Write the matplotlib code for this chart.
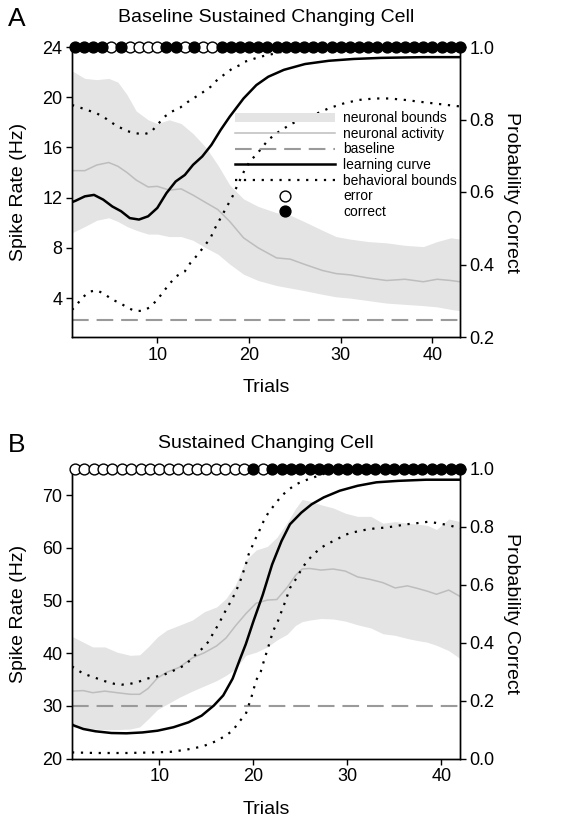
import matplotlib
matplotlib.use("Agg")
import matplotlib.pyplot as plt
from matplotlib.lines import Line2D
from matplotlib.patches import Patch

plt.rcParams['font.family'] = ['Liberation Sans', 'DejaVu Sans']

# ---------------- Panel A data ----------------
a_title = "Baseline Sustained Changing Cell"
a_neu_x = [0.7, 2.1, 3.4, 4.7, 5.7, 6.7, 7.7, 9.0, 10.0, 11.3, 12.6, 13.9, 15.3, 16.6, 17.9,
           19.4, 21, 23, 24.5, 26, 28, 29.5, 31, 33, 35, 37, 39, 40.5, 42, 43]
a_neu_mean = [14.15, 14.15, 14.6, 14.8, 14.5, 14.0, 13.4, 12.85, 12.9, 12.6, 12.7, 12.2, 11.6, 11.05, 10.1,
              8.8, 8.0, 7.2, 7.1, 6.7, 6.2, 5.95, 5.85, 5.6, 5.4, 5.5, 5.3, 5.5, 5.4, 5.3]
a_neu_upper = [22.1, 21.5, 21.4, 21.5, 21.2, 20.2, 18.9, 18.2, 17.9, 18.2, 17.9, 17.1, 16.0, 14.6, 13.0,
               11.9, 11.3, 10.8, 10.6, 10.1, 9.4, 8.9, 8.7, 8.5, 8.4, 8.2, 8.1, 8.5, 8.8, 8.7]
a_neu_lower = [9.2, 9.7, 10.2, 10.4, 10.1, 9.7, 9.4, 9.1, 9.1, 8.9, 8.9, 8.6, 8.0, 7.5, 6.7,
               5.9, 5.4, 5.0, 4.8, 4.6, 4.3, 4.1, 4.0, 3.8, 3.6, 3.5, 3.4, 3.3, 3.1, 3.0]
a_baseline = 2.25

a_lc_x = [0.7, 1.1, 2.1, 3.1, 4.1, 5.1, 6.05, 7.0, 8.0, 9.0, 10.0, 11.0, 12.0, 13.0, 13.9, 14.9,
          15.9, 16.9, 17.9, 19.4, 20.8, 22.1, 23.8, 26.1, 28.7, 31.4, 34.4, 39, 43]
a_lc = [0.572, 0.576, 0.588, 0.592, 0.579, 0.560, 0.547, 0.528, 0.524, 0.533, 0.556, 0.597, 0.629,
        0.647, 0.675, 0.698, 0.730, 0.771, 0.808, 0.858, 0.895, 0.918, 0.937, 0.953, 0.962, 0.967,
        0.970, 0.972, 0.972]

a_ub_x = [0.7, 1.8, 3.4, 4.5, 5.4, 6.7, 7.7, 8.5, 9.3, 10.0, 10.8, 11.6, 12.5, 13.3, 14.1, 14.9,
          15.8, 16.6, 17.4, 18.2, 19.0, 19.5, 21.2, 22.8, 24.5, 26.5, 43]
a_ub = [0.840, 0.831, 0.817, 0.801, 0.785, 0.768, 0.762, 0.759, 0.765, 0.785, 0.808, 0.822, 0.833,
        0.848, 0.861, 0.874, 0.890, 0.911, 0.926, 0.941, 0.950, 0.959, 0.973, 0.982, 0.992, 0.998, 1.0]

a_lb_x = [0.7, 1.1, 1.8, 2.6, 3.4, 4.2, 5.1, 5.9, 6.7, 7.5, 8.4, 9.2, 10.0, 10.7, 11.3, 12.1, 13.0,
          13.6, 14.4, 15.1, 15.8, 16.2, 16.7, 17.2, 17.7, 18.2, 18.6, 19.1, 19.6, 20.2, 20.8, 22.1,
          23.0, 24.6, 25.4, 27.1, 28.7, 30.4, 32.0, 33.7, 35.3, 37.0, 38.6, 43]
a_lb = [0.275, 0.285, 0.308, 0.325, 0.329, 0.319, 0.303, 0.294, 0.282, 0.272, 0.272, 0.282, 0.303,
        0.326, 0.346, 0.368, 0.381, 0.404, 0.427, 0.450, 0.473, 0.496, 0.519, 0.542, 0.565, 0.588,
        0.611, 0.638, 0.665, 0.688, 0.703, 0.744, 0.762, 0.788, 0.796, 0.813, 0.831, 0.845, 0.854,
        0.858, 0.858, 0.854, 0.849, 0.836]

# 1 = correct, 0 = error
a_outcome = [1, 1, 1, 1, 0, 1, 0, 0, 0, 0, 1, 1, 0, 1, 0, 0, 1, 1, 1, 1, 1, 1, 1, 1, 1, 1,
             1, 1, 1, 1, 1, 1, 1, 1, 1, 1, 1, 1, 1, 1, 1, 1, 1]
a_yticks = [4, 8, 12, 16, 20, 24]
a_y2ticks = [0.2, 0.4, 0.6, 0.8, 1.0]

# ---------------- Panel B data ----------------
b_title = "Sustained Changing Cell"
b_neu_x = [0.7, 1.9, 2.9, 4.2, 5.5, 6.9, 7.9, 8.8, 9.8, 10.8, 12.1, 13.5, 14.8, 16.1, 17.1, 18.1,
           19.2, 20.3, 21.5, 22.5, 23.6, 24.5, 25.2, 26, 27.2, 28.5, 29.8, 31.1, 32.5, 33.8, 35.1,
           36.4, 37.5, 38.5, 39.5, 40.8, 42]
b_neu_mean = [32.8, 32.9, 32.5, 32.8, 32.5, 32.2, 32.2, 33.3, 35.3, 36.4, 37.3, 39.1, 40.1, 41.4,
              42.9, 45.2, 47.5, 49.5, 50.1, 50.2, 52.5, 54.8, 56.0, 56.1, 55.8, 56.0, 55.6, 54.5,
              54.0, 53.4, 52.4, 52.8, 52.3, 51.8, 51.2, 52.0, 50.8]
b_neu_upper = [43.2, 42.1, 41.2, 41.2, 40.2, 39.6, 39.7, 41.2, 43.1, 44.4, 45.3, 46.3, 47.9, 48.8,
               50.4, 53.0, 57.7, 59.6, 60.3, 62.0, 64.8, 67.5, 69.2, 68.9, 68.2, 67.6, 66.6, 66.0,
               66.0, 64.7, 65.0, 64.7, 64.5, 64.3, 63.5, 65.5, 65.0]
b_neu_lower = [26.0, 25.8, 25.6, 25.5, 25.5, 25.6, 26.0, 27.5, 29.3, 30.3, 31.6, 32.8, 33.8, 34.8,
               35.8, 37.0, 39.6, 40.2, 41.2, 42.5, 43.6, 45.3, 46.0, 46.3, 46.6, 46.5, 46.1, 45.4,
               44.8, 43.7, 43.4, 42.8, 42.4, 42.1, 41.5, 40.5, 39.0]
b_baseline = 30.0

b_lc_x = [0.7, 0.9, 1.9, 3.2, 4.9, 6.5, 8.2, 9.8, 11.5, 13.1, 14.5, 15.8, 16.8, 17.8, 18.6, 19.2,
          20.0, 21.0, 22.0, 23.0, 23.9, 25.1, 26.2, 27.5, 29.2, 31.1, 33.1, 35.4, 38.4, 42]
b_lc = [0.118, 0.114, 0.102, 0.094, 0.088, 0.087, 0.090, 0.096, 0.108, 0.125, 0.148, 0.183, 0.218,
        0.276, 0.345, 0.395, 0.473, 0.565, 0.670, 0.751, 0.809, 0.849, 0.878, 0.902, 0.925, 0.942,
        0.954, 0.959, 0.963, 0.963]

b_ub_x = [0.7, 1.9, 2.9, 4.2, 5.2, 6.0, 6.9, 7.7, 8.7, 9.5, 10.3, 11.2, 12.0, 12.8, 13.6, 14.5,
          15.3, 15.8, 16.3, 16.8, 17.3, 17.8, 18.3, 18.6, 18.9, 19.2, 19.5, 20.2, 20.7, 21.1, 21.6,
          22.3, 23.0, 23.8, 24.6, 25.4, 26.2, 27.0, 27.9, 29.0, 42]
b_ub = [0.318, 0.293, 0.282, 0.267, 0.258, 0.255, 0.258, 0.264, 0.276, 0.282, 0.287, 0.299, 0.311,
        0.324, 0.351, 0.378, 0.406, 0.438, 0.463, 0.496, 0.525, 0.554, 0.589, 0.612, 0.641, 0.670,
        0.705, 0.757, 0.791, 0.820, 0.849, 0.878, 0.907, 0.930, 0.948, 0.959, 0.969, 0.977, 0.988,
        0.997, 1.0]

b_lb_x = [0.7, 3.2, 6.5, 9.5, 11.2, 12.8, 14.5, 15.3, 16.1, 16.9, 17.8, 18.4, 19.2, 19.5, 19.8,
          20.3, 20.8, 21.1, 21.6, 22.1, 22.6, 23.0, 23.4, 23.9, 24.6, 25.1, 25.7, 26.4, 27.2, 28.0,
          28.9, 29.7, 30.5, 31.3, 32.1, 33.0, 33.8, 34.6, 35.4, 36.2, 37.0, 37.9, 38.7, 40.8, 42]
b_lb = [0.021, 0.019, 0.019, 0.021, 0.023, 0.030, 0.041, 0.050, 0.061, 0.076, 0.096, 0.123, 0.154,
        0.183, 0.212, 0.270, 0.301, 0.334, 0.386, 0.440, 0.473, 0.508, 0.542, 0.589, 0.623, 0.652,
        0.681, 0.705, 0.728, 0.743, 0.757, 0.772, 0.780, 0.786, 0.791, 0.795, 0.797, 0.800, 0.804,
        0.809, 0.811, 0.815, 0.818, 0.806, 0.795]

b_outcome = [0, 0, 0, 0, 0, 0, 0, 0, 0, 0, 0, 0, 0, 0, 0, 0, 0, 0, 0, 1, 0, 1, 1, 1, 1, 1,
             1, 1, 1, 1, 1, 1, 1, 1, 1, 1, 1, 1, 1, 1, 1, 1]
b_yticks = [20, 30, 40, 50, 60, 70]
b_y2ticks = [0.0, 0.2, 0.4, 0.6, 0.8, 1.0]

xticks = [10, 20, 30, 40]
legend_labels = ["neuronal bounds", "neuronal activity", "baseline", "learning curve",
                 "behavioral bounds", "error", "correct"]

# ---------------- styles ----------------
SHADE = "#e4e4e4"
MEAN_C = "#bdbdbd"
BASE_C = "#9a9a9a"
DOT = (0, (1, 3))
DASH = (0, (8, 3.8))
TICK_FS = 13
LAB_FS = 14
MSIZE = 7.8

fig = plt.figure(figsize=(5.7, 8.19), dpi=100)
W, H = 570.0, 819.0


def panel(rect, neu_x, mean, upper, lower, base, lc_x, lc, ub_x, ub, lb_x, lb, outcome,
          xlim, ylim, y2lim, yticks, y2ticks):
    ax = fig.add_axes(rect)
    ax.fill_between(neu_x, lower, upper, color=SHADE, lw=0, zorder=1)
    ax.plot(neu_x, mean, color=MEAN_C, lw=1.1, zorder=2)
    ax.axhline(base, color=BASE_C, lw=1.5, linestyle=DASH, zorder=2)
    ax.set_xlim(*xlim)
    ax.set_ylim(*ylim)
    ax.set_yticks(yticks)
    ax.set_xticks(xticks)
    ax2 = ax.twinx()
    ax2.plot(lc_x, lc, color="black", lw=1.8, zorder=3)
    ax2.plot(ub_x, ub, color="black", lw=1.6, linestyle=DOT, zorder=3)
    ax2.plot(lb_x, lb, color="black", lw=1.6, linestyle=DOT, zorder=3)
    trials = list(range(1, len(outcome) + 1))
    cx = [t for t, o in zip(trials, outcome) if o == 1]
    ex = [t for t, o in zip(trials, outcome) if o == 0]
    ax2.plot(ex, [y2lim[1]] * len(ex), 'o', ms=MSIZE, mfc='white', mec='black', mew=1.0,
             clip_on=False, zorder=5)
    ax2.plot(cx, [y2lim[1]] * len(cx), 'o', ms=MSIZE, mfc='black', mec='black', mew=1.0,
             clip_on=False, zorder=6)
    ax2.set_ylim(*y2lim)
    ax2.set_yticks(y2ticks)
    ax2.set_yticklabels([f"{v:.1f}" for v in y2ticks])
    ax2.set_xlim(*xlim)
    for a in (ax, ax2):
        a.spines['top'].set_visible(False)
        for s in a.spines.values():
            s.set_linewidth(1.0)
        a.tick_params(direction='out', length=4, width=1.0, labelsize=TICK_FS, pad=3)
    ax.set_ylabel("Spike Rate (Hz)", fontsize=LAB_FS, labelpad=11)
    ax2.set_ylabel("Probability Correct", fontsize=LAB_FS, rotation=270, labelpad=18)
    ax.set_xlabel("Trials", fontsize=LAB_FS, labelpad=11)
    return ax, ax2


axA, axA2 = panel([72 / W, 1 - 337 / H, 388 / W, 290 / H], a_neu_x, a_neu_mean, a_neu_upper,
                  a_neu_lower, a_baseline, a_lc_x, a_lc, a_ub_x, a_ub, a_lb_x, a_lb, a_outcome,
                  (0.7, 43.0), (0.9, 24), (0.2, 1.0), a_yticks, a_y2ticks)
axB, axB2 = panel([72 / W, 1 - 758.5 / H, 388 / W, 289.5 / H], b_neu_x, b_neu_mean, b_neu_upper,
                  b_neu_lower, b_baseline, b_lc_x, b_lc, b_ub_x, b_ub, b_lb_x, b_lb, b_outcome,
                  (0.7, 42.0), (20, 75), (0.0, 1.0), b_yticks, b_y2ticks)

fig.text(266 / W, 1 - 18 / H, a_title, ha='center', va='center', fontsize=14)
fig.text(266 / W, 1 - 444 / H, b_title, ha='center', va='center', fontsize=14)
fig.text(17 / W, 1 - 19 / H, "A", ha='center', va='center', fontsize=19)
fig.text(17 / W, 1 - 445 / H, "B", ha='center', va='center', fontsize=19)

handles = [
    Patch(facecolor=SHADE, edgecolor='none'),
    Line2D([], [], color=MEAN_C, lw=1.1),
    Line2D([], [], color=BASE_C, lw=1.5, linestyle=DASH),
    Line2D([], [], color='black', lw=1.8),
    Line2D([], [], color='black', lw=1.6, linestyle=DOT),
    Line2D([], [], linestyle='none', marker='o', ms=MSIZE, mfc='white', mec='black', mew=1.0),
    Line2D([], [], linestyle='none', marker='o', ms=MSIZE, mfc='black', mec='black', mew=1.0),
]
leg = axA2.legend(handles, legend_labels, loc='upper left',
                  bbox_to_anchor=((235 - 72) / 388, 1 - (111 - 47) / 290),
                  frameon=False, fontsize=10, handlelength=7.2, handletextpad=0.6,
                  labelspacing=0.12, borderpad=0, borderaxespad=0, numpoints=1,
                  handleheight=0.6)

fig.savefig("out.png", dpi=100)
